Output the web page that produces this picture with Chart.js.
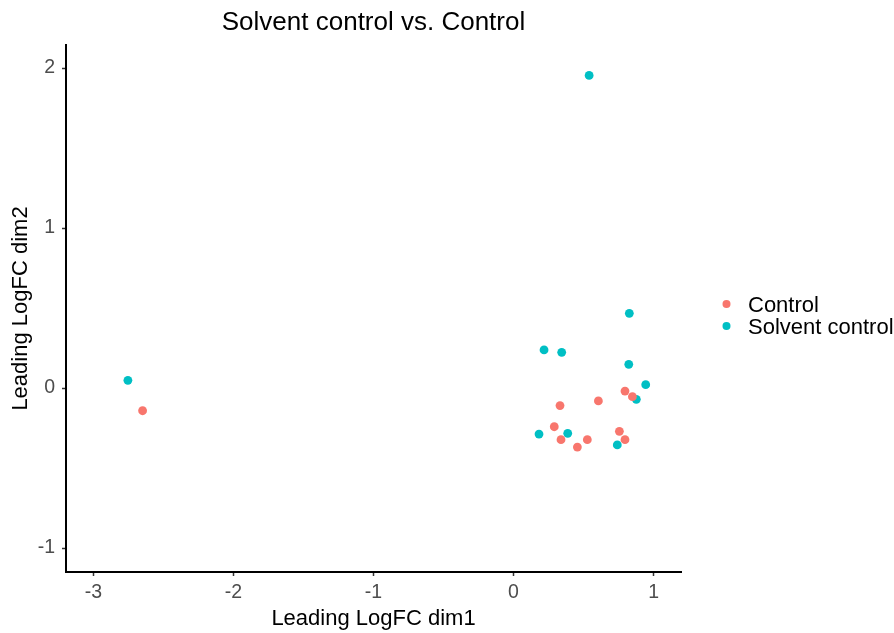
<!DOCTYPE html>
<html>
<head>
<meta charset="utf-8">
<script src="https://cdn.jsdelivr.net/npm/chart.js@4/dist/chart.umd.min.js"></script>
<style>
  html, body { margin: 0; padding: 0; background: #ffffff; }
  #wrap { width: 894px; height: 633px; position: relative; }
  canvas { display: block; }
</style>
</head>
<body>
<div id="wrap"><canvas id="mds" width="894" height="633"></canvas></div>
<script>
// MDS plot: leading log fold-change dimensions per sample
const chartTitle = 'Solvent control vs. Control';
const groupNames = ['Control', 'Solvent control'];
const groupColors = ['#F8766D', '#00BFC4'];

const controlX = [0.796, 0.849, 0.606, 0.332, 0.291, 0.339, 0.456, 0.527, 0.756, 0.796, -2.649];
const controlY = [-0.019, -0.054, -0.081, -0.110, -0.242, -0.323, -0.369, -0.323, -0.271, -0.323, -0.142];

const solventX = [-2.754, 0.540, 0.827, 0.218, 0.344, 0.823, 0.944, 0.877, 0.182, 0.387, 0.741];
const solventY = [0.048, 1.954, 0.467, 0.238, 0.223, 0.148, 0.021, -0.071, -0.288, -0.283, -0.356];

const xTickValues = [-3, -2, -1, 0, 1];
const yTickValues = [-1, 0, 1, 2];
const xTitle = 'Leading LogFC dim1';
const yTitle = 'Leading LogFC dim2';

function toPoints(xs, ys) {
  return xs.map((x, i) => ({ x: x, y: ys[i] }));
}

const FONT = '"Liberation Sans", Arial, sans-serif';

// Title centred over the panel, plus a ggplot-style legend on the right
const decorations = {
  id: 'decorations',
  afterDraw(chart) {
    const ctx = chart.ctx;
    const area = chart.chartArea;
    ctx.save();
    ctx.fillStyle = '#000000';
    ctx.font = '26px ' + FONT;
    ctx.textAlign = 'center';
    ctx.textBaseline = 'alphabetic';
    ctx.fillText(chartTitle, (area.left + area.right) / 2, 29.5);

    const baseX = 726.5;
    const rows = [304, 326];
    chart.data.datasets.forEach((ds, i) => {
      ctx.beginPath();
      ctx.fillStyle = ds.backgroundColor;
      ctx.arc(baseX, rows[i], 4, 0, Math.PI * 2);
      ctx.fill();
      ctx.fillStyle = '#000000';
      ctx.font = '22px ' + FONT;
      ctx.textAlign = 'left';
      ctx.fillText(ds.label, 748, rows[i] + 7.6);
    });
    ctx.restore();
  }
};

const axisCommon = {
  type: 'linear',
  grid: {
    display: true,
    drawOnChartArea: false,
    drawTicks: true,
    tickLength: 4,
    tickWidth: 1.5,
    tickColor: '#333333',
    color: '#333333'
  },
  border: { display: true, color: '#000000', width: 2 }
};

new Chart(document.getElementById('mds'), {
  type: 'scatter',
  data: {
    datasets: [
      {
        label: groupNames[0],
        data: toPoints(controlX, controlY),
        backgroundColor: groupColors[0],
        borderWidth: 0,
        pointRadius: 4.4,
        pointHoverRadius: 4.4
      },
      {
        label: groupNames[1],
        data: toPoints(solventX, solventY),
        backgroundColor: groupColors[1],
        borderWidth: 0,
        pointRadius: 4.4,
        pointHoverRadius: 4.4
      }
    ]
  },
  options: {
    responsive: false,
    animation: false,
    devicePixelRatio: 1,
    layout: { padding: { top: 45, right: 213, left: 0, bottom: 0 } },
    plugins: {
      legend: { display: false },
      title: { display: false },
      tooltip: { enabled: false }
    },
    scales: {
      x: Object.assign({}, axisCommon, {
        position: 'bottom',
        min: -3.196,
        max: 1.196,
        afterBuildTicks(scale) { scale.ticks = xTickValues.map(v => ({ value: v })); },
        afterFit(scale) { scale.height = 61; },
        ticks: {
          color: '#4D4D4D',
          font: { family: FONT, size: 19.5 },
          padding: 5,
          maxRotation: 0,
          callback: (v) => String(v)
        },
        title: {
          display: true,
          text: xTitle,
          color: '#000000',
          font: { family: FONT, size: 22 },
          padding: { top: 0, bottom: 1 }
        }
      }),
      y: Object.assign({}, axisCommon, {
        position: 'left',
        min: -1.15,
        max: 2.144,
        afterBuildTicks(scale) { scale.ticks = yTickValues.map(v => ({ value: v })); },
        afterFit(scale) { scale.width = 66; },
        ticks: {
          color: '#4D4D4D',
          font: { family: FONT, size: 19.5 },
          padding: 7,
          callback: (v) => String(v)
        },
        title: {
          display: true,
          text: yTitle,
          color: '#000000',
          font: { family: FONT, size: 22 },
          padding: { top: 8, bottom: 0 }
        }
      })
    }
  },
  plugins: [decorations]
});
</script>
</body>
</html>
